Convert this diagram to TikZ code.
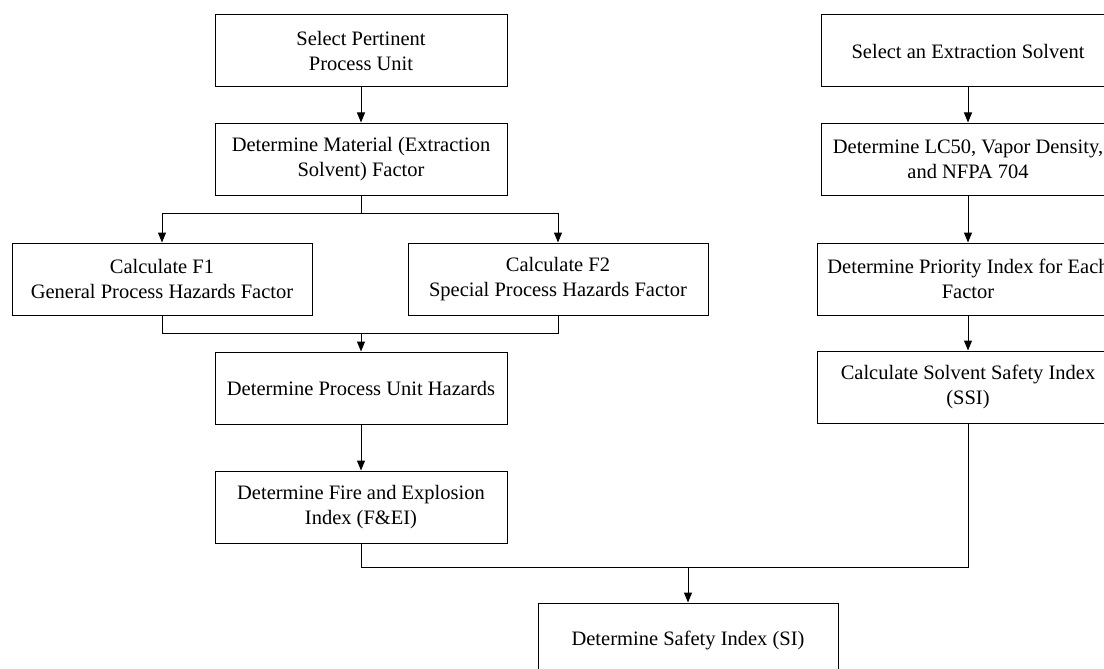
\documentclass[tikz,border=0pt]{standalone}
\usepackage{fontspec}
\setmainfont{Liberation Serif}
\usetikzlibrary{arrows.meta}
\begin{document}
\begin{tikzpicture}[x=1pt,y=-1pt,
  box/.style={draw, line width=1pt, minimum height=72pt, align=center,
    font=\fontsize{20.5}{25}\selectfont, inner sep=0pt},
  flow/.style={line width=1pt, -{Triangle[length=10pt,width=8pt]}},
  link/.style={line width=1pt}]
\useasboundingbox (0,0) rectangle (1104,669);
\begin{scope}
\clip (0,0) rectangle (1104,669);
% left branch: process unit hazards
\node[box, minimum width=292pt] (unit) at (361,51) {Select Pertinent\\Process Unit};
\node[box, minimum width=292pt] (material) at (361,159) {Determine Material (Extraction\\Solvent) Factor};
\node[box, minimum width=300pt] (f1) at (162,279) {Calculate F1\\General Process Hazards Factor};
\node[box, minimum width=300pt] (f2) at (558,279) {Calculate F2\\Special Process Hazards Factor};
\node[box, minimum width=292pt] (hazards) at (361,388) {Determine Process Unit Hazards};
\node[box, minimum width=292pt] (fei) at (361,507) {Determine Fire and Explosion\\Index (F\&EI)};
% right branch: solvent safety
\node[box, minimum width=294pt] (solvent) at (968,51) {Select an Extraction Solvent};
\node[box, minimum width=294pt] (lc50) at (968,159) {Determine LC50, Vapor Density,\\and NFPA 704};
\node[box, minimum width=302pt] (priority) at (968,279) {Determine Priority Index for Each\\Factor};
\node[box, minimum width=302pt] (ssi) at (968,387) {Calculate Solvent Safety Index\\(SSI)};
% result
\node[box, minimum width=300pt, minimum height=74pt] (si) at (688,640) {Determine Safety Index (SI)};

\coordinate (split) at (361,213);
\coordinate (merge) at (361,333);
\coordinate (join) at (688,567);

\draw[flow] (unit) -- (material);
\draw[link] (material.south) -- (split);
\draw[flow] (split) -| (f1.north);
\draw[flow] (split) -| (f2.north);
\draw[link] (f1.south) |- (merge);
\draw[link] (f2.south) |- (merge);
\draw[flow] (merge) -- (hazards.north);
\draw[flow] (hazards) -- (fei);
\draw[flow] (solvent) -- (lc50);
\draw[flow] (lc50) -- (priority);
\draw[flow] (priority) -- (ssi);
\draw[link] (fei.south) |- (join);
\draw[link] (ssi.south) |- (join);
\draw[flow] (join) -- (si.north);
\end{scope}
\end{tikzpicture}
\end{document}
